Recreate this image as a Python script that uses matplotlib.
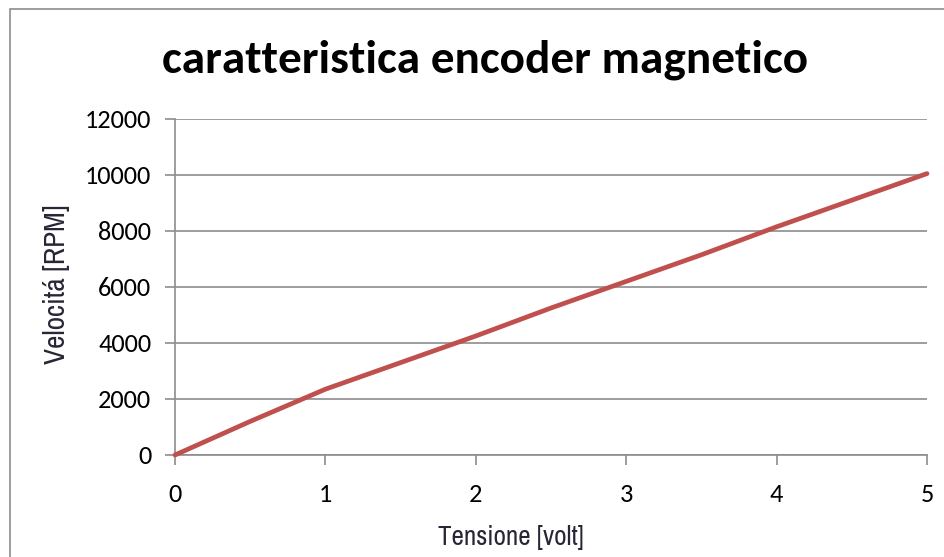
import matplotlib
matplotlib.use("Agg")
import matplotlib.pyplot as plt
from matplotlib.patches import Rectangle

# Data
tensione = [0, 0.5, 1, 1.5, 2, 2.5, 3, 3.5, 4, 4.5, 5]
velocita = [0, 1200, 2350, 3300, 4250, 5250, 6200, 7150, 8150, 9100, 10050]
x_ticks = [0, 1, 2, 3, 4, 5]
y_ticks = [0, 2000, 4000, 6000, 8000, 10000, 12000]
title = "caratteristica encoder magnetico"
xlabel = "Tensione [volt]"
ylabel = "Velocitá [RPM]"

W, H = 945, 557
fig = plt.figure(figsize=(W / 100, H / 100), dpi=100)
fig.patch.set_facecolor("white")

# outer chart border
fig.add_artist(Rectangle((10 / W, -0.05), 1.2, 1 - 9 / H + 0.05,
                         transform=fig.transFigure, fill=False,
                         edgecolor="#8c8c8c", linewidth=1.2))

ax = fig.add_axes([175 / W, 1 - 455 / H, (927 - 175) / W, (455 - 119) / H])
ax.plot(tensione, velocita, color="#C0504D", linewidth=3.4,
        solid_capstyle="round", zorder=3, clip_on=False)

ax.set_xlim(0, 5)
ax.set_ylim(0, 12000)
ax.set_xticks(x_ticks)
ax.set_yticks(y_ticks)
ax.grid(axis="y", color="#8c8c8c", linewidth=1.2)
ax.set_axisbelow(True)
for s in ["top", "right"]:
    ax.spines[s].set_visible(False)
for s in ["left", "bottom"]:
    ax.spines[s].set_color("#8c8c8c")
    ax.spines[s].set_linewidth(1.2)
ax.tick_params(axis="both", direction="out", length=7, width=1.2,
               color="#8c8c8c", labelsize=19, labelcolor="black")
ax.tick_params(axis="x", pad=13)
ax.tick_params(axis="y", pad=10)
for lab in ax.get_xticklabels() + ax.get_yticklabels():
    lab.set_family("Carlito")

ax.set_xlabel(xlabel, family="Archivo Narrow", fontsize=19.5, color="#262636")
ax.set_ylabel(ylabel, family="Archivo Narrow", fontsize=21, color="#262636")
ax.xaxis.set_label_coords(511 / W, 1 - 537 / H, transform=fig.transFigure)
ax.yaxis.set_label_coords(57 / W, 1 - 284 / H, transform=fig.transFigure)
ax.xaxis.label.set_va("center")
ax.yaxis.label.set_va("center")

fig.text(485 / W, 1 - 73 / H, title, family="Carlito", fontweight="bold",
         fontsize=34, ha="center", va="baseline", color="black")

fig.savefig("out.png", dpi=100)
